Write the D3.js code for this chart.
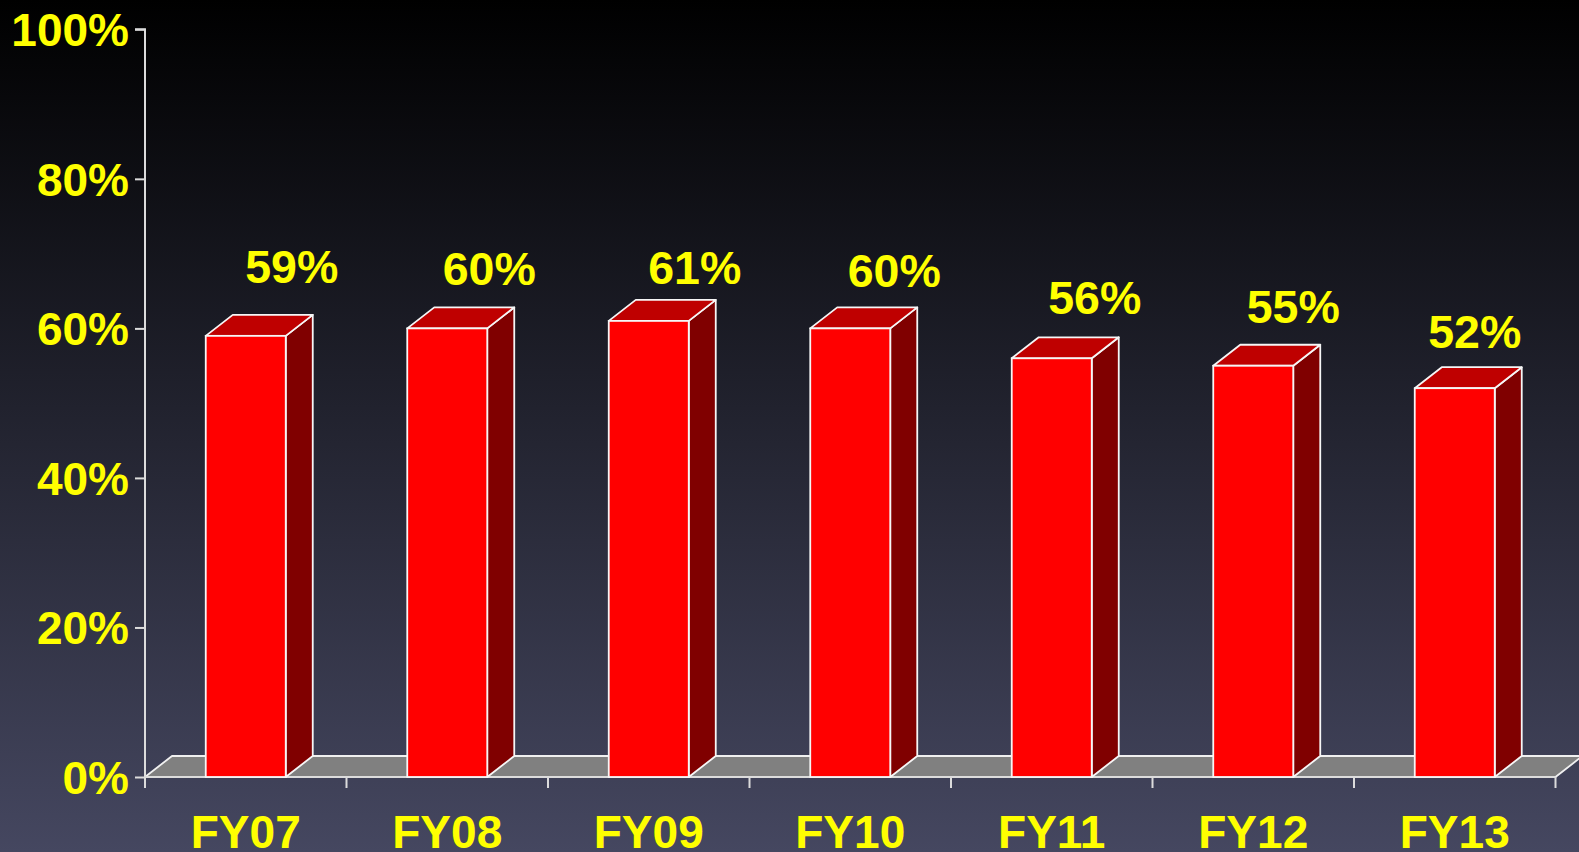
<!DOCTYPE html>
<html>
<head>
<meta charset="utf-8">
<script src="https://cdn.jsdelivr.net/npm/d3@7"></script>
<style>
  html, body { margin: 0; padding: 0; overflow: hidden; background: #000; }
  svg { display: block; }
</style>
</head>
<body>
<svg id="chart" width="1579" height="852"></svg>
<script>
// ---- data ----
const categories = ["FY07", "FY08", "FY09", "FY10", "FY11", "FY12", "FY13"];
const values = [59, 60, 61, 60, 56, 55, 52];
const valueLabels = ["59%", "60%", "61%", "60%", "56%", "55%", "52%"];
const yTicks = [0, 20, 40, 60, 80, 100];

// ---- layout (label nudges relative to the front-top centre of each bar) ----
const labelDx = [46, 42, 46, 44, 43, 40, 20];
const labelDy = [-53, -43, -37, -41, -44, -43, -40];

(function () {
const W = 1579, H = 852;
const plotLeft = 145, plotRight = 1555.5, plotTop = 29.3, plotBottom = 777;
const depthX = 27, depthY = -21;

const svg = d3.select("#chart");

// background gradient
const defs = svg.append("defs");
const grad = defs.append("linearGradient").attr("id", "bg")
  .attr("x1", 0).attr("y1", 0).attr("x2", 0).attr("y2", 1);
grad.append("stop").attr("offset", "0%").attr("stop-color", "#000000");
grad.append("stop").attr("offset", "100%").attr("stop-color", "#454760");
svg.append("rect").attr("width", W).attr("height", H).attr("fill", "url(#bg)");

const x = d3.scaleBand().domain(categories).range([plotLeft, plotRight])
  .paddingInner(0.603).paddingOuter(0.3015);
const y = d3.scaleLinear().domain([0, 100]).range([plotBottom, plotTop]);

const axisColor = "#dcdcdc";
const font = "'Liberation Sans', Arial, sans-serif";

// floor
const y0 = y(0);
svg.append("polygon")
  .attr("points", [[plotLeft, y0], [plotRight, y0], [plotRight + depthX, y0 + depthY], [plotLeft + depthX, y0 + depthY]].map(p => p.join(",")).join(" "))
  .attr("fill", "#808080").attr("stroke", "#f0f0f0").attr("stroke-width", 1.8).attr("stroke-linejoin", "round");

// y axis
const yAxis = d3.axisLeft(y).tickValues(yTicks).tickSize(10).tickFormat(d => d + "%");
const gy = svg.append("g").attr("transform", `translate(${plotLeft},0)`).call(yAxis);
gy.select(".domain").attr("stroke", axisColor).attr("stroke-width", 2).attr("d", `M-10,${y(100)}H0V${y(0)}`);
gy.selectAll(".tick line").attr("stroke", axisColor).attr("stroke-width", 2);
gy.selectAll(".tick text")
  .attr("fill", "#ffff00").attr("font-family", font).attr("font-weight", "bold")
  .attr("font-size", 46).attr("x", -16).attr("dy", null).attr("y", 16.5)
  .attr("text-anchor", "end");

// x axis (ticks at band boundaries)
const boundaries = d3.range(categories.length + 1).map(i => plotLeft + i * x.step());
const gx = svg.append("g");
gx.append("line").attr("x1", plotLeft).attr("x2", plotRight).attr("y1", y0).attr("y2", y0)
  .attr("stroke", axisColor).attr("stroke-width", 2);
gx.selectAll("line.tk").data(boundaries).join("line").attr("class", "tk")
  .attr("x1", d => d).attr("x2", d => d).attr("y1", y0).attr("y2", y0 + 11)
  .attr("stroke", axisColor).attr("stroke-width", 2);
gx.selectAll("text").data(categories).join("text")
  .attr("x", d => x(d) + x.bandwidth() / 2).attr("y", 848)
  .attr("text-anchor", "middle").attr("fill", "#ffff00")
  .attr("font-family", font).attr("font-weight", "bold").attr("font-size", 46)
  .text(d => d);

// bars
const bw = x.bandwidth();
const bars = svg.append("g").selectAll("g").data(categories).join("g");
const stroke = "#f6f6f6";
bars.append("polygon") // side
  .attr("points", (d, i) => {
    const x1 = x(d) + bw, yt = y(values[i]);
    return [[x1, yt], [x1 + depthX, yt + depthY], [x1 + depthX, y0 + depthY], [x1, y0]].map(p => p.join(",")).join(" ");
  })
  .attr("fill", "#800000").attr("stroke", stroke).attr("stroke-width", 1.8).attr("stroke-linejoin", "round");
bars.append("polygon") // top
  .attr("points", (d, i) => {
    const x0 = x(d), yt = y(values[i]);
    return [[x0, yt], [x0 + bw, yt], [x0 + bw + depthX, yt + depthY], [x0 + depthX, yt + depthY]].map(p => p.join(",")).join(" ");
  })
  .attr("fill", "#bf0000").attr("stroke", stroke).attr("stroke-width", 1.8).attr("stroke-linejoin", "round");
bars.append("rect") // front
  .attr("x", d => x(d)).attr("width", bw)
  .attr("y", (d, i) => y(values[i])).attr("height", (d, i) => y0 - y(values[i]))
  .attr("fill", "#ff0000").attr("stroke", stroke).attr("stroke-width", 1.8);

// value labels
svg.append("g").selectAll("text").data(categories).join("text")
  .attr("x", (d, i) => x(d) + bw / 2 + labelDx[i])
  .attr("y", (d, i) => y(values[i]) + labelDy[i])
  .attr("text-anchor", "middle").attr("fill", "#ffff00")
  .attr("font-family", font).attr("font-weight", "bold").attr("font-size", 46.5)
  .text((d, i) => valueLabels[i]);
})();
</script>
</body>
</html>
